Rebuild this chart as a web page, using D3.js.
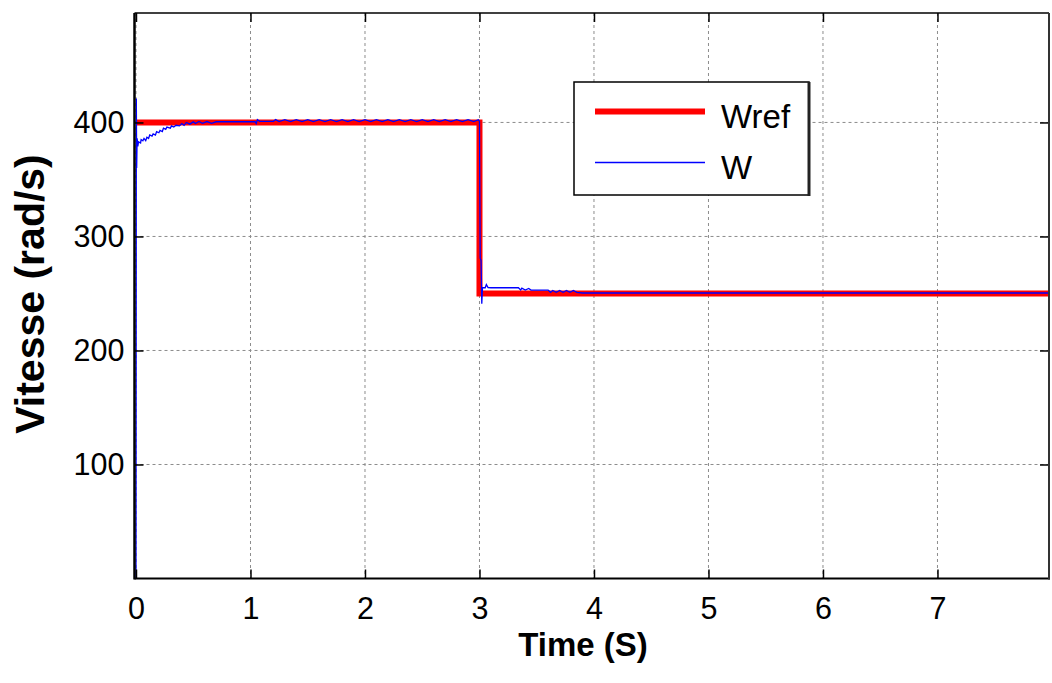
<!DOCTYPE html>
<html>
<head>
<meta charset="utf-8">
<script src="https://cdn.jsdelivr.net/npm/d3@7/dist/d3.min.js"></script>
<style>
  html, body { margin: 0; padding: 0; background: #fff; }
  svg { display: block; font-family: Arial, "Liberation Sans", Helvetica, sans-serif; }
</style>
</head>
<body>
<svg id="chart" width="1052" height="683"></svg>
<script>
// Axis tick values
const xTicks = [0, 1, 2, 3, 4, 5, 6, 7];
const yTicks = [100, 200, 300, 400];

// Reference speed Wref (rad/s): [time s, speed]
const wrefData = [
  [0, 400], [3, 400], [3, 250], [8, 250]
];

// Measured speed W (rad/s): [time s, speed]
const wData = [
  [0, 0], [0.003, 421], [0.006, 360], [0.010, 386], [0.016, 379], [0.022, 383],
  [0.04, 382], [0.045, 385], [0.06, 384], [0.07, 386], [0.085, 384], [0.095, 387],
  [0.11, 386], [0.12, 389], [0.14, 388], [0.15, 390], [0.17, 389], [0.18, 392],
  [0.2, 391], [0.21, 393], [0.23, 392], [0.24, 395], [0.26, 394], [0.27, 396],
  [0.3, 395], [0.31, 397], [0.33, 396], [0.35, 397.5], [0.38, 397], [0.4, 399],
  [0.42, 397.5], [0.44, 400], [0.47, 398.5], [0.5, 400.5], [0.52, 399], [0.55, 400.8],
  [0.58, 399.3], [0.62, 400.8], [0.66, 399.3], [0.7, 400.6], [0.85, 400.6], [1.04, 400.6],
  [1.05, 399], [1.06, 402.5], [1.08, 401], [1.2, 401], [1.22, 402.5], [1.25, 400.8],
  [1.3, 402.4], [1.35, 400.8], [1.4, 402.4], [1.45, 400.8], [1.5, 402.4], [1.55, 400.8],
  [1.6, 402.4], [1.65, 400.8], [1.7, 402.4], [1.75, 400.8], [1.8, 402.4], [1.85, 400.8],
  [1.9, 402.4], [1.95, 400.8], [2.0, 402.4], [2.05, 400.8], [2.1, 402.4], [2.15, 400.8],
  [2.2, 402.4], [2.25, 400.8], [2.3, 402.4], [2.35, 400.8], [2.4, 402.4], [2.45, 400.8],
  [2.5, 402.4], [2.55, 400.8], [2.6, 402.4], [2.65, 400.8], [2.7, 402.4], [2.75, 400.8],
  [2.8, 402.4], [2.85, 400.8], [2.9, 402.4], [2.95, 400.8], [2.99, 402.4], [3.0, 401],
  [3.006, 281], [3.014, 279], [3.02, 241], [3.026, 255], [3.05, 255], [3.06, 257.8],
  [3.075, 255.2], [3.1, 255], [3.34, 255], [3.36, 253], [3.37, 254.6], [3.4, 253],
  [3.43, 254.4], [3.45, 253], [3.6, 253], [3.62, 251], [3.64, 252.6], [3.67, 251],
  [3.7, 252.6], [3.73, 251], [3.76, 252.6], [3.79, 251], [3.82, 252.6], [3.85, 251],
  [3.9, 250.4], [8, 250.4]
];

const margin = { left: 134.5, right: 1049, top: 13, bottom: 578.5 };

const svg = d3.select("#chart");

const x = d3.scaleLinear().domain([-0.013, 7.974]).range([margin.left, margin.right]);
const y = d3.scaleLinear().domain([0, 496]).range([margin.bottom, margin.top]);

// Dotted grid
const grid = svg.append("g").attr("stroke", "#8c8c8c").attr("stroke-width", 1)
  .attr("stroke-dasharray", "3,3");
grid.selectAll("line.gx").data(xTicks).join("line")
  .attr("x1", d => x(d)).attr("x2", d => x(d))
  .attr("y1", margin.top).attr("y2", margin.bottom);
grid.selectAll("line.gy").data(yTicks).join("line")
  .attr("x1", margin.left).attr("x2", margin.right)
  .attr("y1", d => y(d)).attr("y2", d => y(d));

// Curves
const line = d3.line().x(d => x(d[0])).y(d => y(d[1]));
const plot = svg.append("g");
plot.append("defs").append("clipPath").attr("id", "clip")
  .append("rect").attr("x", margin.left).attr("y", margin.top)
  .attr("width", margin.right - margin.left).attr("height", margin.bottom - margin.top);
const curves = plot.append("g").attr("clip-path", "url(#clip)");
curves.append("path").datum(wrefData).attr("d", line)
  .attr("fill", "none").attr("stroke", "#ff0000").attr("stroke-width", 6);
curves.append("path").datum(wData).attr("d", line)
  .attr("fill", "none").attr("stroke", "#0000ff").attr("stroke-width", 1.3);

// Axes with inward ticks on all four sides
const tickLen = 9;
const bottomAxis = d3.axisBottom(x).tickValues(xTicks).tickSize(-tickLen).tickPadding(19).tickFormat(d3.format("d"));
const topAxis = d3.axisTop(x).tickValues(xTicks).tickSize(-tickLen).tickFormat("");
const leftAxis = d3.axisLeft(y).tickValues(yTicks).tickSize(-tickLen).tickPadding(10).tickFormat(d3.format("d"));
const rightAxis = d3.axisRight(y).tickValues(yTicks).tickSize(-tickLen).tickFormat("");

function styleAxis(g) {
  g.select(".domain").remove();
  g.selectAll(".tick line").attr("stroke", "#000").attr("stroke-width", 1.5);
  g.selectAll(".tick text").attr("fill", "#000").attr("font-size", 30.5)
    .attr("font-family", "Arial, 'Liberation Sans', sans-serif");
}

svg.append("g").attr("transform", `translate(0,${margin.bottom})`).call(bottomAxis).call(styleAxis);
svg.append("g").attr("transform", `translate(0,${margin.top})`).call(topAxis).call(styleAxis);
svg.append("g").attr("transform", `translate(${margin.left},0)`).call(leftAxis).call(styleAxis);
svg.append("g").attr("transform", `translate(${margin.right},0)`).call(rightAxis).call(styleAxis);

// Axes box
svg.append("line").attr("x1", margin.left).attr("x2", margin.right)
  .attr("y1", margin.top).attr("y2", margin.top).attr("stroke", "#000").attr("stroke-width", 1.5);
svg.append("line").attr("x1", margin.left).attr("x2", margin.right + 1)
  .attr("y1", margin.bottom).attr("y2", margin.bottom).attr("stroke", "#000").attr("stroke-width", 2);
svg.append("line").attr("x1", margin.left).attr("x2", margin.left)
  .attr("y1", margin.top).attr("y2", margin.bottom + 1).attr("stroke", "#000").attr("stroke-width", 2.5);
svg.append("line").attr("x1", margin.right).attr("x2", margin.right)
  .attr("y1", margin.top).attr("y2", margin.bottom + 1).attr("stroke", "#333").attr("stroke-width", 2);

// Axis titles
svg.append("text").attr("x", 583).attr("y", 656).attr("text-anchor", "middle")
  .attr("font-size", 33).attr("font-weight", "bold").attr("fill", "#000")
  .text("Time (S)");
svg.append("text").attr("transform", `translate(44,${294}) rotate(-90)`)
  .attr("text-anchor", "middle").attr("font-size", 41).attr("font-weight", "bold").attr("fill", "#000")
  .text("Vitesse (rad/s)");

// Legend
const legend = [
  { label: "Wref", color: "#ff0000", width: 6 },
  { label: "W", color: "#0000ff", width: 1.3 }
];
const lg = svg.append("g");
lg.append("rect").attr("x", 574).attr("y", 82).attr("width", 235).attr("height", 113)
  .attr("fill", "#fff").attr("stroke", "#000").attr("stroke-width", 1.5);
lg.append("line").attr("x1", 809).attr("x2", 809).attr("y1", 82).attr("y2", 196)
  .attr("stroke", "#222").attr("stroke-width", 3);
const rowY = [111.5, 162.5];
lg.selectAll("line.item").data(legend).join("line")
  .attr("x1", 595).attr("x2", 705)
  .attr("y1", (d, i) => rowY[i]).attr("y2", (d, i) => rowY[i])
  .attr("stroke", d => d.color).attr("stroke-width", d => d.width);
lg.selectAll("text.item").data(legend).join("text")
  .attr("x", 721).attr("y", (d, i) => rowY[i] + 16)
  .attr("font-size", 33).attr("fill", "#000")
  .text(d => d.label);
</script>
</body>
</html>
